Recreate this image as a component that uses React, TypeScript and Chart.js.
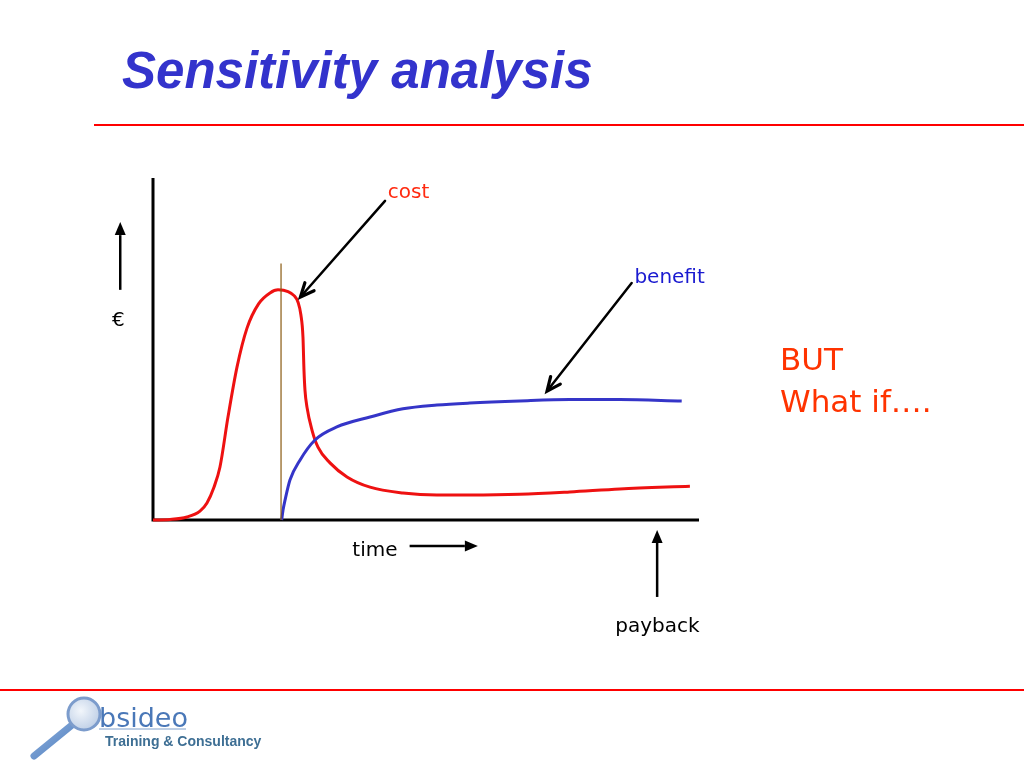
import React, { useEffect, useRef } from "react";
import { Chart, registerables } from "chart.js";

Chart.register(...registerables);

// time in months, value in k€
const costMonths = [0, 1.87, 3.74, 5.16, 5.93, 6.7, 7.36, 8.24, 9.23, 10.33, 11.6, 12.86, 13.74, 14.84, 15.5, 15.95, 16.25, 16.48, 16.59, 16.7, 16.92, 17.47, 18.13, 19.45, 21.32, 23.85, 27.47, 31.2, 34.8, 40.3, 45.8, 51.3, 59.0];
const costValues = [0, 0.15, 0.88, 2.6, 5.0, 9.6, 15.5, 30.1, 44.7, 56.1, 63.2, 66.4, 67.3, 66.8, 65.6, 63.6, 60.0, 53.5, 43.9, 38.0, 33.0, 26.3, 21.3, 16.7, 12.6, 9.6, 7.9, 7.3, 7.3, 7.5, 8.2, 9.1, 9.9];

const benefitMonths = [14.14, 14.29, 14.51, 15.05, 16.15, 17.8, 20.2, 23.85, 27.47, 31.2, 34.8, 40.3, 45.8, 51.3, 58.1];
const benefitValues = [0, 2.9, 5.8, 11.7, 17.5, 23.4, 27.2, 30.1, 32.5, 33.6, 34.2, 34.8, 35.2, 35.2, 34.8];

const investMonths = [14.07, 14.07];
const investValues = [0, 75];

const xMin = 0;
const xMax = 60;
const yMin = 0;
const yMax = 100;

// labels: text, x, y (data units, left / baseline)
const labelTexts = ["cost", "benefit", "time", "payback", "€"];
const labelColors = ["#ff2a10", "#1a1ad0", "#000000", "#000000", "#000000"];
const labelPos: [number, number][] = [
  [25.8, 94.2],
  [52.9, 69.3],
  [21.9, -10.5],
  [50.8, -32.8],
  [-4.5, 56.7],
];

// arrows: from -> to (data units)
const arrows: [number, number, number, number][] = [
  [25.5, 93.3, 16.2, 65.2],
  [52.6, 69.3, 43.3, 37.7],
  [28.2, -7.6, 35.7, -7.6],
  [55.4, -22.5, 55.4, -2.9],
  [-3.6, 67.3, -3.6, 87.1],
];
const arrowHeads = ["open", "open", "filled", "filled", "filled"];

const comic = '"Comic Sans MS", "DejaVu Sans", sans-serif';

const sketchPlugin = {
  id: "sketch",
  beforeDatasetsDraw(chart: any) {
    const { ctx, scales } = chart;
    const x = scales.x;
    const y = scales.y;
    ctx.save();
    ctx.strokeStyle = "#000";
    ctx.lineWidth = 3;
    ctx.lineCap = "butt";
    ctx.beginPath();
    ctx.moveTo(x.getPixelForValue(xMin), y.getPixelForValue(yMax));
    ctx.lineTo(x.getPixelForValue(xMin), y.getPixelForValue(yMin));
    ctx.lineTo(x.getPixelForValue(xMax), y.getPixelForValue(yMin));
    ctx.stroke();
    ctx.restore();
  },
  afterDatasetsDraw(chart: any) {
    const { ctx, scales } = chart;
    const x = scales.x;
    const y = scales.y;
    ctx.save();
    arrows.forEach(([x1, y1, x2, y2], i) => {
      const px1 = x.getPixelForValue(x1);
      const py1 = y.getPixelForValue(y1);
      const px2 = x.getPixelForValue(x2);
      const py2 = y.getPixelForValue(y2);
      const ang = Math.atan2(py2 - py1, px2 - px1);
      ctx.strokeStyle = "#000";
      ctx.fillStyle = "#000";
      if (arrowHeads[i] === "open") {
        ctx.lineWidth = 2.5;
        ctx.lineCap = "round";
        ctx.lineJoin = "miter";
        ctx.beginPath();
        ctx.moveTo(px1, py1);
        ctx.lineTo(px2 - 2 * Math.cos(ang), py2 - 2 * Math.sin(ang));
        ctx.stroke();
        const hl = 15;
        const spread = 0.42;
        ctx.lineWidth = 3.2;
        ctx.beginPath();
        ctx.moveTo(px2 - hl * Math.cos(ang - spread), py2 - hl * Math.sin(ang - spread));
        ctx.lineTo(px2, py2);
        ctx.lineTo(px2 - hl * Math.cos(ang + spread), py2 - hl * Math.sin(ang + spread));
        ctx.stroke();
      } else {
        const headLen = 13;
        const headW = 5.5;
        const bx = px2 - headLen * Math.cos(ang);
        const by = py2 - headLen * Math.sin(ang);
        ctx.lineWidth = 2.5;
        ctx.lineCap = "butt";
        ctx.beginPath();
        ctx.moveTo(px1, py1);
        ctx.lineTo(bx, by);
        ctx.stroke();
        ctx.beginPath();
        ctx.moveTo(px2, py2);
        ctx.lineTo(bx + headW * Math.sin(ang), by - headW * Math.cos(ang));
        ctx.lineTo(bx - headW * Math.sin(ang), by + headW * Math.cos(ang));
        ctx.closePath();
        ctx.fill();
      }
    });
    ctx.font = "20px " + comic;
    ctx.textAlign = "left";
    ctx.textBaseline = "alphabetic";
    labelTexts.forEach((t, i) => {
      ctx.fillStyle = labelColors[i];
      ctx.fillText(t, x.getPixelForValue(labelPos[i][0]), y.getPixelForValue(labelPos[i][1]));
    });
    ctx.restore();
  },
};

function toPoints(xs: number[], ys: number[]) {
  return xs.map((v, i) => ({ x: v, y: ys[i] }));
}

export default function App() {
  const canvasRef = useRef<HTMLCanvasElement | null>(null);

  useEffect(() => {
    if (!canvasRef.current) return;
    const chart = new Chart(canvasRef.current, {
      type: "line",
      data: {
        datasets: [
          {
            label: "investment",
            data: toPoints(investMonths, investValues),
            borderColor: "#8a5a10",
            borderWidth: 1.2,
            pointRadius: 0,
            clip: false as any,
          },
          {
            label: "benefit",
            data: toPoints(benefitMonths, benefitValues),
            borderColor: "#3535c8",
            borderWidth: 3,
            pointRadius: 0,
            cubicInterpolationMode: "monotone",
            clip: false as any,
          },
          {
            label: "cost",
            data: toPoints(costMonths, costValues),
            borderColor: "#ee1111",
            borderWidth: 3,
            pointRadius: 0,
            cubicInterpolationMode: "monotone",
            clip: false as any,
          },
        ],
      },
      options: {
        responsive: false,
        animation: false,
        devicePixelRatio: 1,
        layout: { padding: { left: 153, top: 178, right: 325, bottom: 248 } },
        plugins: { legend: { display: false }, tooltip: { enabled: false } },
        events: [],
        scales: {
          x: { type: "linear", min: xMin, max: xMax, display: false },
          y: { type: "linear", min: yMin, max: yMax, display: false },
        },
      },
      plugins: [sketchPlugin],
    });
    return () => chart.destroy();
  }, []);

  return (
    <div
      style={{
        position: "absolute",
        left: 0,
        top: 0,
        width: 1024,
        height: 768,
        background: "#ffffff",
        overflow: "hidden",
      }}
    >
      <div
        style={{
          position: "absolute",
          left: 122,
          top: 45,
          font: 'italic bold 51px "Liberation Sans", Arial, sans-serif',
          lineHeight: "51px",
          color: "#3333cc",
          whiteSpace: "nowrap",
        }}
      >
        Sensitivity analysis
      </div>
      <div style={{ position: "absolute", left: 94, top: 124, width: 930, height: 2, background: "#ff0000" }} />
      <canvas
        ref={canvasRef}
        width={1024}
        height={768}
        style={{ position: "absolute", left: 0, top: 0, width: 1024, height: 768 }}
      />
      <div
        style={{
          position: "absolute",
          left: 780,
          top: 338,
          font: "31px " + comic,
          lineHeight: "42px",
          color: "#ff3300",
          whiteSpace: "nowrap",
        }}
      >
        BUT
        <br />
        What if….
      </div>
      <div style={{ position: "absolute", left: 0, top: 689, width: 1024, height: 2, background: "#ff0000" }} />
      <svg width={300} height={78} style={{ position: "absolute", left: 0, top: 690 }}>
        <defs>
          <radialGradient id="lens" cx="40%" cy="40%" r="70%">
            <stop offset="0%" stopColor="#f2f6fb" />
            <stop offset="100%" stopColor="#b9cbe4" />
          </radialGradient>
          <linearGradient id="handle" x1="0" y1="0" x2="1" y2="1">
            <stop offset="0%" stopColor="#8fb0dc" />
            <stop offset="100%" stopColor="#4f7fc0" />
          </linearGradient>
        </defs>
        <line x1={72} y1={35} x2={34} y2={66} stroke="url(#handle)" strokeWidth={7} strokeLinecap="round" />
        <circle cx={84} cy={24} r={16} fill="url(#lens)" stroke="#7c9ccc" strokeWidth={3} />
        <line x1={99} y1={39} x2={186} y2={39} stroke="#7f9fcc" strokeWidth={1.2} />
        <text x={99} y={37} fill="#4a78b8" style={{ font: '27px "DejaVu Sans", sans-serif' }}>
          bsideo
        </text>
        <text x={105} y={56} fill="#3e6f94" style={{ font: 'bold 14px "Liberation Sans", Arial, sans-serif' }}>
          Training &amp; Consultancy
        </text>
      </svg>
    </div>
  );
}
